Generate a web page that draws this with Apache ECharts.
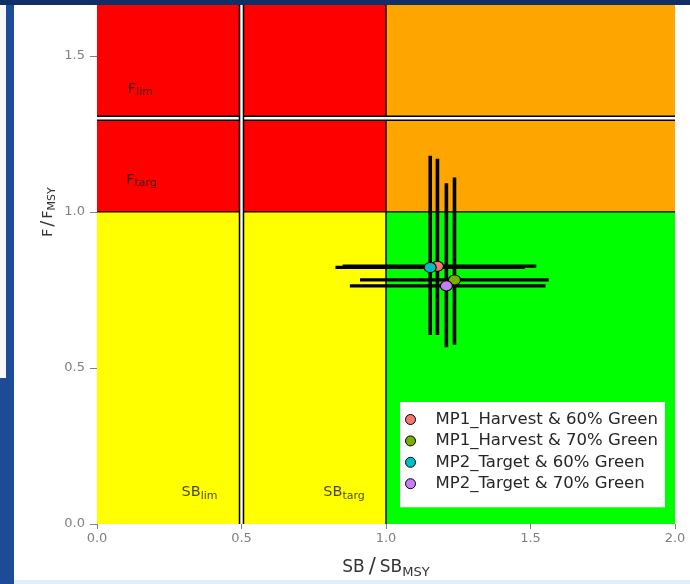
<!DOCTYPE html>
<html>
<head>
<meta charset="utf-8">
<script src="https://cdn.jsdelivr.net/npm/echarts@6/dist/echarts.min.js"></script>
<style>
  html, body { margin: 0; padding: 0; background: #ffffff; }
  #chart { width: 690px; height: 584px; }
</style>
</head>
<body>
<div id="chart"></div>
<script>
// ---------- data ----------
const xTicks = [0, 0.5, 1, 1.5, 2];
const yTicks = [0, 0.5, 1, 1.5];
const xRange = [0, 2];
const yRange = [0, 1.663];

const seriesNames = [
  'MP1_Harvest & 60% Green',
  'MP1_Harvest & 70% Green',
  'MP2_Target & 60% Green',
  'MP2_Target & 70% Green'
];
const sbMedian = [1.178, 1.237, 1.153, 1.209];
const fMedian  = [0.826, 0.782, 0.822, 0.763];
const sbLow    = [0.850, 0.910, 0.825, 0.875];
const sbHigh   = [1.520, 1.563, 1.480, 1.552];
const fLow     = [0.606, 0.574, 0.606, 0.566];
const fHigh    = [1.170, 1.110, 1.180, 1.092];

// zones: [sb from, f from, sb to, f to]
const zoneSbFrom = [0, 1, 0, 1];
const zoneSbTo   = [1, 2, 1, 2];
const zoneFFrom  = [1, 1, 0, 0];
const zoneFTo    = [1.663, 1.663, 1, 1];

// reference points
const fLim = 1.3, sbLim = 0.5, fTarg = 1.0, sbTarg = 1.0;

// zone labels
const zoneLabelMain = ['F', 'F', 'SB', 'SB'];
const zoneLabelSub  = ['lim', 'targ', 'lim', 'targ'];
const zoneLabelSb   = [0.150, 0.154, 0.355, 0.855];
const zoneLabelF    = [1.394, 1.103, 0.101, 0.101];

// ---------- styles ----------
const zoneColors = ['#ff0000', '#ffa500', '#ffff00', '#00ff00'];
const pointColors = ['#F8766D', '#7CAE00', '#00BFC4', '#C77CFF'];
const tickColor = '#808080';

const chart = echarts.init(document.getElementById('chart'), null, { renderer: 'canvas' });

const zoneData = zoneSbFrom.map((v, i) => [v, zoneFFrom[i], zoneSbTo[i], zoneFTo[i], i]);
const thinLines = [[xRange[0], fTarg, xRange[1], fTarg], [sbTarg, yRange[0], sbTarg, yRange[1]]];
const doubleLines = [[xRange[0], fLim, xRange[1], fLim], [sbLim, yRange[0], sbLim, yRange[1]]];
const labelData = zoneLabelMain.map((m, i) => [zoneLabelSb[i], zoneLabelF[i], m, zoneLabelSub[i]]);
const errData = seriesNames.map((n, i) => [sbMedian[i], fMedian[i], sbLow[i], sbHigh[i], fLow[i], fHigh[i]]);

function segRender(width, color, under) {
  return function (params, api) {
    const p1 = api.coord([api.value(0), api.value(1)]);
    const p2 = api.coord([api.value(2), api.value(3)]);
    const children = [];
    if (under) {
      children.push({ type: 'line', shape: { x1: p1[0], y1: p1[1], x2: p2[0], y2: p2[1] },
        style: { stroke: under.color, lineWidth: under.width } });
    }
    children.push({ type: 'line', shape: { x1: p1[0], y1: p1[1], x2: p2[0], y2: p2[1] },
      style: { stroke: color, lineWidth: width } });
    return { type: 'group', children };
  };
}

const subRich = {
  m: { fontSize: 14.5, fontFamily: 'DejaVu Sans', color: '#1a1a1a' },
  s: { fontSize: 11, fontFamily: 'DejaVu Sans', color: '#1a1a1a', padding: [7, 0, 0, 0] }
};

const series = [
  {
    type: 'custom', name: 'zones', silent: true, z: 1,
    encode: { x: [0, 2], y: [1, 3] },
    data: zoneData,
    renderItem: function (params, api) {
      const a = api.coord([api.value(0), api.value(3)]);
      const b = api.coord([api.value(2), api.value(1)]);
      return { type: 'rect', shape: { x: a[0], y: a[1], width: b[0] - a[0], height: b[1] - a[1] },
        style: { fill: zoneColors[api.value(4)] } };
    }
  },
  {
    type: 'custom', name: 'targ', silent: true, z: 2,
    encode: { x: [0, 2], y: [1, 3] },
    data: thinLines,
    renderItem: segRender(1.4, '#000')
  },
  {
    type: 'custom', name: 'lim', silent: true, z: 3,
    encode: { x: [0, 2], y: [1, 3] },
    data: doubleLines,
    renderItem: segRender(2.4, '#ffffff', { color: '#000', width: 5.5 })
  },
  {
    type: 'scatter', name: 'labels', silent: true, z: 4,
    symbolSize: 0,
    data: labelData,
    label: {
      show: true, position: 'inside',
      formatter: p => '{m|' + p.data[2] + '}{s|' + p.data[3] + '}',
      rich: subRich
    }
  },
  {
    type: 'custom', name: 'errbars', silent: true, z: 5,
    encode: { x: [0, 2, 3], y: [1, 4, 5] },
    data: errData,
    renderItem: function (params, api) {
      const x = api.value(0), y = api.value(1);
      const h1 = api.coord([api.value(2), y]), h2 = api.coord([api.value(3), y]);
      const v1 = api.coord([x, api.value(4)]), v2 = api.coord([x, api.value(5)]);
      return { type: 'group', children: [
        { type: 'line', shape: { x1: h1[0], y1: h1[1], x2: h2[0], y2: h2[1] }, style: { stroke: '#000', lineWidth: 3.3 } },
        { type: 'line', shape: { x1: v1[0], y1: v1[1], x2: v2[0], y2: v2[1] }, style: { stroke: '#000', lineWidth: 3.6 } }
      ] };
    }
  }
];

seriesNames.forEach((n, i) => {
  series.push({
    type: 'scatter', name: n, z: 10,
    symbol: 'circle', symbolSize: [12, 10],
    data: [[sbMedian[i], fMedian[i]]],
    itemStyle: { color: pointColors[i], borderColor: '#000', borderWidth: 1, opacity: 1 }
  });
});

const option = {
  animation: false,
  backgroundColor: '#ffffff',
  grid: { left: 97, right: 15, top: 5, bottom: 60, containLabel: false },
  xAxis: {
    type: 'value', min: xRange[0], max: xRange[1], interval: 0.5,
    axisLine: { show: false },
    splitLine: { show: false },
    axisTick: { show: true, length: 5, lineStyle: { color: tickColor, width: 1 }, customValues: xTicks },
    axisLabel: { margin: 8, color: tickColor, fontSize: 13, fontFamily: 'DejaVu Sans',
      customValues: xTicks, formatter: v => v.toFixed(1) },
    name: '{a|SB}{sl|/}{a|SB}{s|MSY}',
    nameLocation: 'middle', nameGap: 33,
    nameTextStyle: {
      rich: {
        a: { fontSize: 17, fontFamily: 'DejaVu Sans', color: '#333' },
        sl: { fontSize: 21, fontFamily: 'DejaVu Sans', color: '#333', padding: [0, 4, 0, 4] },
        s: { fontSize: 13, fontFamily: 'DejaVu Sans', color: '#333', padding: [9, 0, 0, 0] }
      }
    }
  },
  yAxis: {
    type: 'value', min: yRange[0], max: yRange[1], interval: 0.5,
    axisLine: { show: false },
    splitLine: { show: false },
    axisTick: { show: true, length: 7, lineStyle: { color: tickColor, width: 1 }, customValues: yTicks },
    axisLabel: { margin: 12, color: tickColor, fontSize: 13, fontFamily: 'DejaVu Sans',
      customValues: yTicks, formatter: v => v.toFixed(1) }
  },
  legend: {
    orient: 'vertical', left: 400, top: 402,
    backgroundColor: '#ffffff',
    padding: [9, 7, 15, 5],
    itemGap: 4.4, itemWidth: 12, itemHeight: 10,
    icon: 'circle',
    data: seriesNames,
    itemStyle: { borderColor: '#000', borderWidth: 1 },
    textStyle: { fontFamily: 'DejaVu Sans', fontSize: 16.5, color: '#262626', lineHeight: 16, padding: [0, 0, 0, 14] }
  },
  graphic: [
    { type: 'rect', z: 100, silent: true, shape: { x: 0, y: 0, width: 14, height: 584 }, style: { fill: '#1c4b97' } },
    { type: 'rect', z: 101, silent: true, shape: { x: 0, y: 5, width: 6, height: 373 }, style: { fill: '#f7f7f7' } },
    { type: 'rect', z: 100, silent: true, shape: { x: 0, y: 0, width: 690, height: 5 }, style: { fill: '#0f2f66' } },
    { type: 'rect', z: 100, silent: true, shape: { x: 14, y: 580, width: 676, height: 4 }, style: { fill: '#dcefff' } },
    {
      type: 'text', z: 100, silent: true, x: 48, y: 212, rotation: Math.PI / 2,
      style: {
        text: '{a|F}{sl|/}{a|F}{s|MSY}', align: 'center', verticalAlign: 'middle',
        rich: {
          a: { fontSize: 14, fontFamily: 'DejaVu Sans', fill: '#333', color: '#333' },
          sl: { fontSize: 18, fontFamily: 'DejaVu Sans', fill: '#333', color: '#333', padding: [0, 2, 0, 2] },
          s: { fontSize: 11, fontFamily: 'DejaVu Sans', fill: '#333', color: '#333', padding: [8, 0, 0, 0] }
        }
      }
    }
  ],
  series: series
};

chart.setOption(option);
</script>
</body>
</html>
